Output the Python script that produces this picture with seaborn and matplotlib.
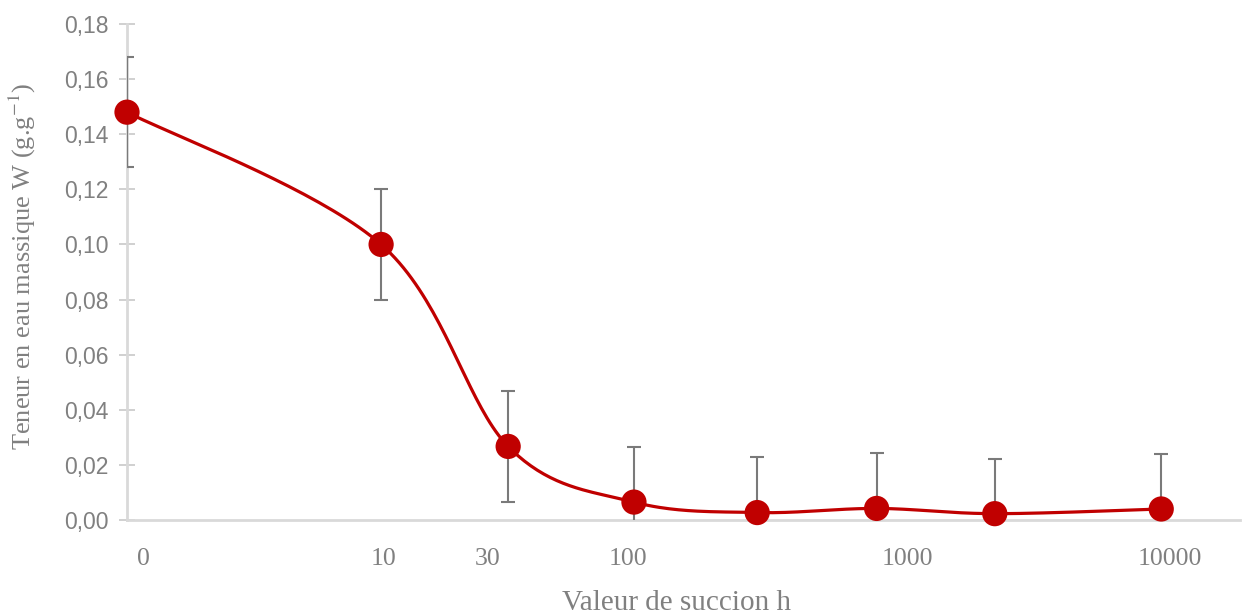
import numpy as np
import pandas as pd
import seaborn as sns
import matplotlib
matplotlib.use('Agg')
import matplotlib.pyplot as plt

# =============================================================================
# Data
# =============================================================================
pos = [0.0, 2.0, 3.0, 3.99, 4.96, 5.90, 6.83, 8.14]          # horizontal place of each point
w = [0.148, 0.100, 0.0267, 0.0065, 0.0027, 0.0042, 0.0023, 0.0040]
err = [0.020, 0.020, 0.020, 0.020, 0.020, 0.020, 0.020, 0.020]
tick_pos = [0.13, 2.02, 2.84, 3.94, 6.14, 8.21]
tick_lab = ['0', '10', '30', '100', '1000', '10000']

RED = '#c00000'
GREY = '#808080'
LIGHT = '#d9d9d9'


def smooth(x, y, sx=127.0, sy=2756.0, n=40):
    """Excel-like smoothed line (cubic Bezier, Catmull-Rom controls) in screen units."""
    P = np.column_stack([np.asarray(x) * sx, np.asarray(y) * sy])
    out = []
    for i in range(len(P) - 1):
        p0 = P[max(i - 1, 0)]
        p1 = P[i]
        p2 = P[i + 1]
        p3 = P[min(i + 2, len(P) - 1)]
        c1 = p1 + (p2 - p0) / 6
        c2 = p2 - (p3 - p1) / 6
        t = np.linspace(0, 1, n)[:, None]
        seg = (1 - t)**3 * p1 + 3 * (1 - t)**2 * t * c1 + 3 * (1 - t) * t**2 * c2 + t**3 * p2
        out.append(seg if i == 0 else seg[1:])
    out = np.vstack(out)
    return out[:, 0] / sx, out[:, 1] / sy


sns.set_style('white')
plt.rcParams['font.family'] = ['Liberation Serif', 'DejaVu Serif']
plt.rcParams['mathtext.fontset'] = 'stix'

fig = plt.figure(figsize=(12.57, 6.16), dpi=100)
ax = fig.add_axes([127 / 1257, 1 - 520 / 616, (1240 - 127) / 1257, 496 / 616])

xs, ys = smooth(pos, w)
curve = pd.DataFrame({'x': xs, 'y': ys})
sns.lineplot(data=curve, x='x', y='y', sort=False, estimator=None,
             color=RED, lw=2.3, ax=ax, zorder=3)

ax.errorbar(pos, w, yerr=err, fmt='none', ecolor='#7a7a7a', elinewidth=1.5,
            capsize=5, capthick=1.5, zorder=2.7)

pts = pd.DataFrame({'x': pos, 'y': w})
sns.scatterplot(data=pts, x='x', y='y', s=330, color=RED, edgecolor='none',
                ax=ax, zorder=4, clip_on=False)

ax.set_xlim(0, 8.76)
ax.set_ylim(0, 0.18)

ax.set_yticks(np.arange(0, 0.181, 0.02))
ax.set_yticklabels([f'{v:.2f}'.replace('.', ',') for v in np.arange(0, 0.181, 0.02)],
                   family=['Liberation Sans', 'DejaVu Sans'], fontsize=16.5, color=GREY)
ax.set_xticks(tick_pos)
ax.set_xticklabels(tick_lab, fontsize=18.5, color=GREY)

ax.tick_params(axis='y', direction='inout', length=11, width=1.2, color='#c8c8c8',
               pad=8, left=True)
ax.tick_params(axis='x', length=0, pad=20)

for s in ['top', 'right']:
    ax.spines[s].set_visible(False)
for s in ['left', 'bottom']:
    ax.spines[s].set_color(LIGHT)
    ax.spines[s].set_linewidth(2)

ax.set_ylabel('Teneur en eau massique W (g.g$^{-1}$)', fontsize=19, color=GREY)
ax.yaxis.label.set_va('center')
ax.yaxis.set_label_coords(-0.0943, 0.512)
ax.set_xlabel('Valeur de succion h', fontsize=21, color=GREY)
ax.xaxis.label.set_va('center')
ax.xaxis.set_label_coords(0.494, -0.167)

fig.savefig('out.png', dpi=100)
